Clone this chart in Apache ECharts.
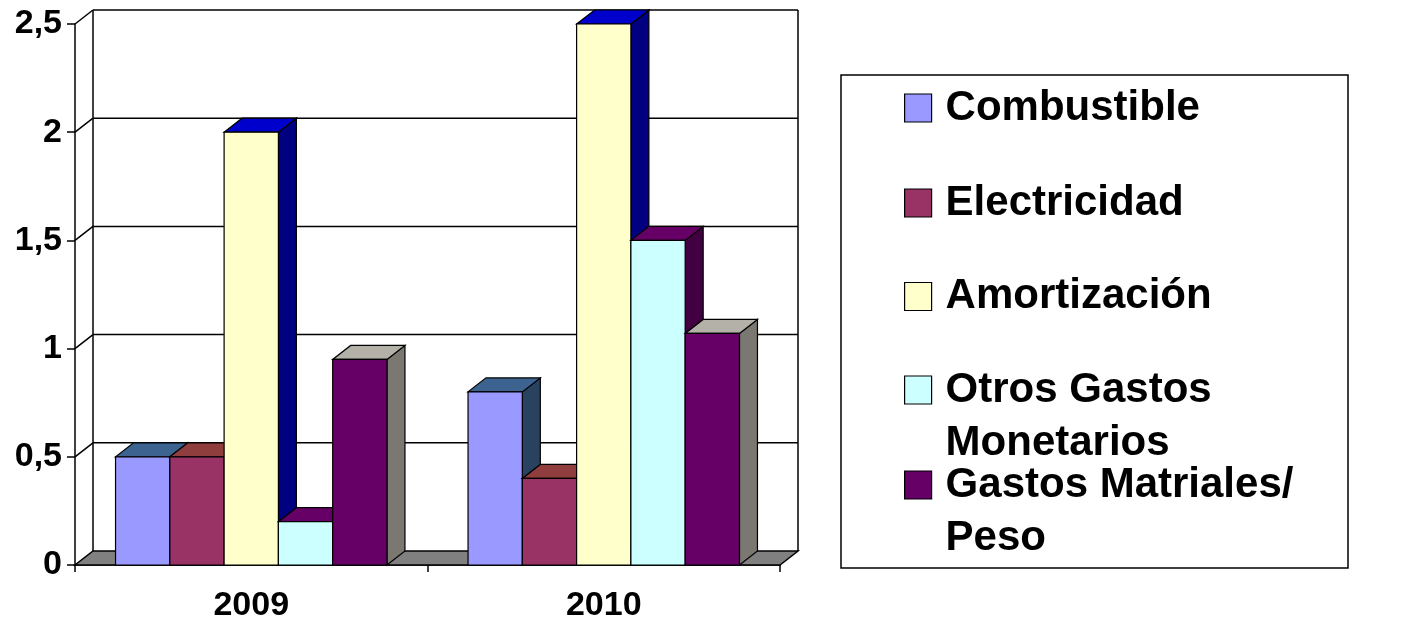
<!DOCTYPE html>
<html>
<head>
<meta charset="utf-8">
<script src="https://cdn.jsdelivr.net/npm/echarts@6/dist/echarts.min.js"></script>
<style>
  html, body { margin: 0; padding: 0; background: #fff; }
  #chart { width: 1423px; height: 623px; }
</style>
</head>
<body>
<div id="chart"></div>
<script>
// data
const categories = ['2009', '2010'];
const combustible = [0.5, 0.8];
const electricidad = [0.5, 0.4];
const amortizacion = [2.0, 2.5];
const otrosGastos = [0.2, 1.5];
const gastosMateriales = [0.95, 1.07];
const yTicks = [0, 0.5, 1, 1.5, 2, 2.5];

// legend text with the wrapped lines of the original
const legendLabels = {
  'Combustible': 'Combustible',
  'Electricidad': 'Electricidad',
  'Amortización': 'Amortización',
  'Otros Gastos Monetarios': 'Otros Gastos\nMonetarios',
  'Gastos Matriales/ Peso': 'Gastos Matriales/\nPeso'
};

const FONT = '"Liberation Sans", Arial, sans-serif';
const DX = 18;   // depth offset of the 3d look
const DY = -14;
const STROKE = '#000';
const LINE_H = 53;

const seriesDefs = [
  { name: 'Combustible', data: combustible, front: '#9999FF', top: '#3D6491', side: '#29425F' },
  { name: 'Electricidad', data: electricidad, front: '#993366', top: '#8F3D3D', side: '#5C2424' },
  { name: 'Amortización', data: amortizacion, front: '#FFFFCC', top: '#0000CC', side: '#000080' },
  { name: 'Otros Gastos Monetarios', data: otrosGastos, front: '#CCFFFF', top: '#660066', side: '#420042' },
  { name: 'Gastos Matriales/ Peso', data: gastosMateriales, front: '#660066', top: '#B4B1A8', side: '#7A7870' }
];

// vertical centre of each legend row (first text line)
const legendRowY = [108, 203, 296.5, 390, 485];

function line(x1, y1, x2, y2) {
  return { type: 'line', shape: { x1, y1, x2, y2 }, style: { stroke: STROKE, lineWidth: 1.5 } };
}

// back wall, gridlines and floor
function frameRender(params, api) {
  const v = api.value(1);
  const cs = params.coordSys;
  const L = cs.x, R = cs.x + cs.width;
  const y = api.coord([0, v])[1];
  const children = [];
  if (v === yTicks[0]) {
    const yTop = api.coord([0, yTicks[yTicks.length - 1]])[1];
    children.push(line(L + DX, yTop + DY, L + DX, y + DY));
    children.push(line(R + DX, yTop + DY, R + DX, y + DY));
    children.push({
      type: 'polygon',
      shape: { points: [[L, y], [R, y], [R + DX, y + DY], [L + DX, y + DY]] },
      style: { fill: '#808080', stroke: STROKE, lineWidth: 1.5 }
    });
  } else {
    children.push(line(L + DX, y + DY, R + DX, y + DY));
    children.push(line(L, y, L + DX, y + DY));
  }
  return { type: 'group', children };
}

// one 3d column: front, top and side faces
function barRender(k, def) {
  return function (params, api) {
    const cat = api.value(0);
    const v = api.value(1);
    const base = api.coord([cat, 0]);
    const tip = api.coord([cat, v]);
    const band = api.size([1, 0])[0];
    const w = band * 0.154;
    const x = base[0] + (k - 2.5) * w;
    const y0 = base[1], y1 = tip[1];
    const st = (fill) => ({ fill, stroke: STROKE, lineWidth: 1.2 });
    return {
      type: 'group',
      children: [
        { type: 'polygon', shape: { points: [[x + w, y1], [x + w + DX, y1 + DY], [x + w + DX, y0 + DY], [x + w, y0]] }, style: st(def.side) },
        { type: 'polygon', shape: { points: [[x, y1], [x + w, y1], [x + w + DX, y1 + DY], [x + DX, y1 + DY]] }, style: st(def.top) },
        { type: 'rect', shape: { x: x, y: y1, width: w, height: y0 - y1 }, style: st(def.front) }
      ]
    };
  };
}

const chart = echarts.init(document.getElementById('chart'));

const series = [{
  type: 'custom',
  name: '__frame',
  z: 1,
  silent: true,
  renderItem: frameRender,
  data: yTicks.map(v => [0, v])
}];

seriesDefs.forEach((def, k) => {
  series.push({
    type: 'custom',
    name: def.name,
    z: 2,
    silent: true,
    itemStyle: { color: def.front },
    renderItem: barRender(k, def),
    data: def.data.map((v, i) => [i, v])
  });
});

// one legend per row; wrapped names get blank lines on top so the
// icon (centred on the text block) sits on their first line
const legends = seriesDefs.map((def, k) => {
  const n = legendLabels[def.name].split('\n').length;
  const blank = '\n'.repeat(n - 1);
  const total = 2 * n - 1;
  return {
    orient: 'vertical',
    left: 904,
    top: legendRowY[k] - total * LINE_H / 2,
    padding: 0,
    itemWidth: 27,
    itemHeight: 28,
    icon: 'rect',
    selectedMode: false,
    itemStyle: { borderColor: '#000', borderWidth: 1.2 },
    data: [def.name],
    formatter: name => blank + legendLabels[name],
    textStyle: {
      color: '#000', fontFamily: FONT, fontWeight: 'bold', fontSize: 42,
      lineHeight: LINE_H, padding: [0, 0, 0, 9]
    }
  };
});

chart.setOption({
  backgroundColor: '#fff',
  animation: false,
  grid: { left: 75, right: 643, top: 24, bottom: 57 },
  xAxis: {
    type: 'category',
    data: categories,
    axisLine: { show: true, lineStyle: { color: STROKE, width: 1.5 } },
    axisTick: { show: true, length: 7, lineStyle: { color: STROKE, width: 1.5 } },
    axisLabel: { color: '#000', fontFamily: FONT, fontWeight: 'bold', fontSize: 34, margin: 24 },
    splitLine: { show: false }
  },
  yAxis: {
    type: 'value',
    min: 0,
    max: 2.5,
    interval: 0.5,
    axisLine: { show: true, lineStyle: { color: STROKE, width: 1.5 } },
    axisTick: { show: true, length: 8, lineStyle: { color: STROKE, width: 1.5 } },
    axisLabel: {
      color: '#000', fontFamily: FONT, fontWeight: 'bold', fontSize: 34, margin: 13,
      formatter: v => String(v).replace('.', ',')
    },
    splitLine: { show: false }
  },
  legend: legends,
  graphic: [{
    type: 'rect',
    shape: { x: 841, y: 75, width: 507, height: 493 },
    style: { fill: 'none', stroke: '#000', lineWidth: 1.5 },
    silent: true
  }],
  series: series
});
</script>
</body>
</html>
